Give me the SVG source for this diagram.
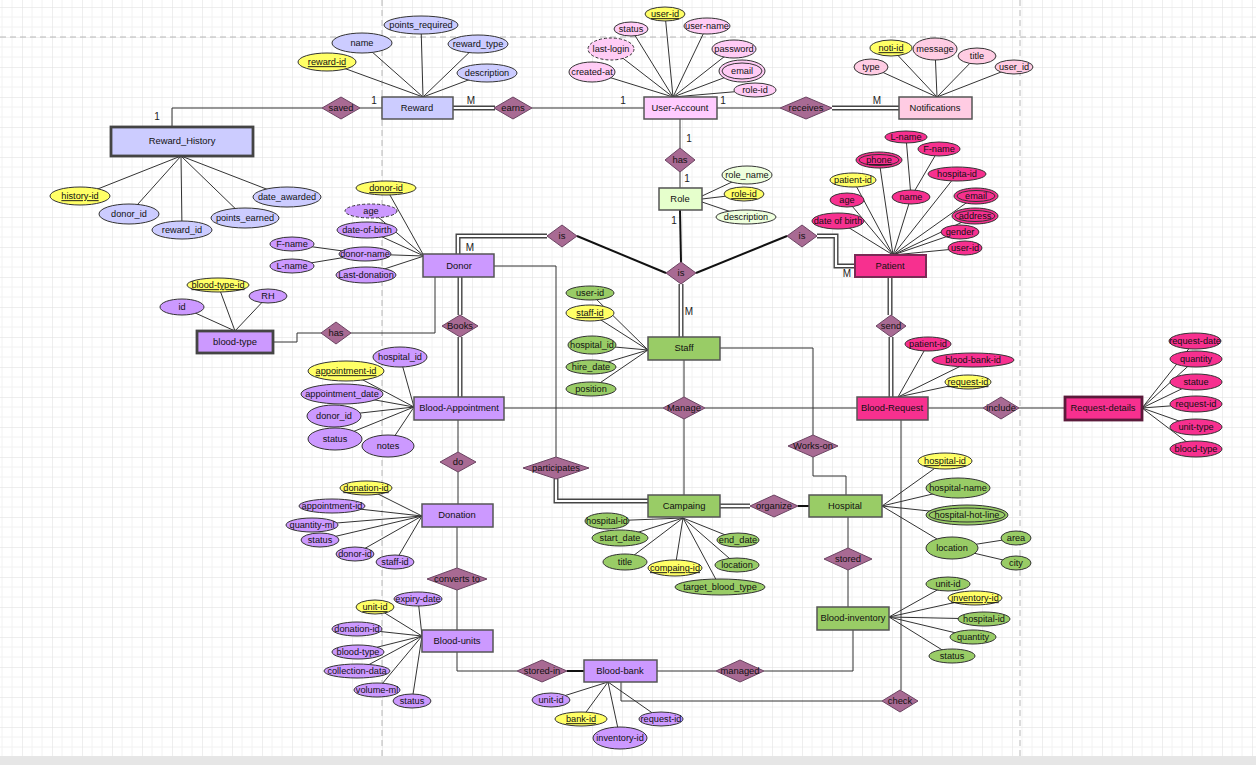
<svg xmlns="http://www.w3.org/2000/svg" width="1256" height="765" viewBox="0 0 1256 765">
<style>
.t{font-family:"Liberation Sans",Arial,sans-serif;font-size:9.2px;text-anchor:middle;fill:#111}
.te{font-size:9.4px}
.k{text-decoration:underline}
.e{stroke:#555;stroke-width:1.5}
.ew{stroke:#444;stroke-width:2.8}
.a{stroke:#333;stroke-width:1}
.dsh{stroke-dasharray:3 2}
.in{fill:none;stroke:#333;stroke-width:1}
.r{fill:#a86a93;stroke:#6b4462;stroke-width:1}
.ln{stroke:#333;stroke-width:1;fill:none}
.th{stroke:#111;stroke-width:2;fill:none}
.dbo{stroke:#444;stroke-width:5;fill:none}
.dbi{stroke:#fff;stroke-width:2.2;fill:none}
.lbl{font-family:"Liberation Sans",Arial,sans-serif;font-size:10px;text-anchor:middle;fill:#222}
.pv{fill:#ccccff}.y{fill:#ffff66}.pk{fill:#ffccf5}.nf{fill:#ffcce3}.lg{fill:#e6ffcc}.lg2{fill:#eeffdd}
.hp{fill:#f7308f}.pu{fill:#cc99ff}.gr{fill:#99cc66}
</style>
<defs>
<pattern id="grid" x="22" y="7" width="30" height="30" patternUnits="userSpaceOnUse">
<path d="M10 0V30M20 0V30M0 10H30M0 20H30" stroke="#f2f2f2" stroke-width="1" fill="none"/>
<path d="M0 0V30M0 0H30" stroke="#dedede" stroke-width="1" fill="none"/>
</pattern>
</defs>
<rect width="1256" height="765" fill="#fff"/>
<rect width="1256" height="757" fill="url(#grid)"/>
<g id="guides" stroke="#b8b8b8" stroke-width="1" stroke-dasharray="6 4" fill="none">
<path d="M0 37H1256"/>
<path d="M382 0V757"/>
<path d="M1020 0V757"/>
</g>
<rect x="0" y="756" width="1256" height="9" fill="#e6e6e6"/>

<g id="connectors">
<path class="ln" d="M181 156L80 196M181 156L129 214M181 156L182 230M181 156L245 218M181 156L287 197"/>
<path class="ln" d="M423 97L327 62M423 97L362 43M423 97L421 25M423 97L478 44M423 97L487 73"/>
<path class="ln" d="M673 97L665 14M673 97L631 29M673 97L707 26M673 97L734 49M673 97L742 71M673 97L755 90M673 97L611 49M673 97L592 72"/>
<path class="ln" d="M937 97L891 48M937 97L935 49M937 97L977 56M937 97L1014 67M937 97L871 67"/>
<path class="ln" d="M702 196L747 175M702 199L744 194M702 202L746 217"/>
<path class="ln" d="M893 255L879 160M893 255L957 174M893 255L911 197M893 255L853 180M893 255L847 200M893 255L838 221M893 255L976 196M893 255L975 216M893 255L960 232M893 255L965 248M911 197L906 137M911 197L939 149"/>
<path class="ln" d="M898 397L928 344M898 397L973 360M898 397L968 382"/>
<path class="ln" d="M1142 408L1195 341M1142 408L1196 359M1142 408L1196 382M1142 408L1196 404M1142 408L1196 427M1142 408L1196 449"/>
<path class="ln" d="M424 256L386 188M424 256L371 211M424 256L367 230M424 256L365 254M424 256L366 275M365 254L292 244M365 254L292 266"/>
<path class="ln" d="M235 331L218 285M235 331L268 296M235 331L182 307"/>
<path class="ln" d="M414 407L400 357M414 407L346 371M414 407L342 394M414 407L334 416M414 407L335 439M414 407L388 446"/>
<path class="ln" d="M422 516L366 488M422 516L332 506M422 516L312 525M422 516L320 540M422 516L355 554M422 516L395 562"/>
<path class="ln" d="M422 636L418 599M422 636L375 607M422 636L357 629M422 636L358 652M422 636L357 671M422 636L377 690M422 636L412 701"/>
<path class="ln" d="M608 682L551 700M608 682L581 719M608 682L620 738M608 682L661 719"/>
<path class="ln" d="M648 350L590 293M648 350L590 313M648 350L592 345M648 350L591 367M648 350L591 389"/>
<path class="ln" d="M683 518L607 521M683 518L620 538M683 518L625 562M683 518L675 568M683 518L720 587M683 518L737 565M683 518L738 540"/>
<path class="ln" d="M882 506L945 461M882 506L958 488M882 506L967 515M882 506L952 548M952 548L1016 538M952 548L1016 563"/>
<path class="ln" d="M889 617L948 584M889 617L975 598M889 617L984 619M889 617L973 637M889 617L952 656"/>
<path class="ln" d="M172 127V108H322"/>
<path class="ln" d="M360 108H382"/>
<path class="dbo" d="M453 108H495"/><path class="dbi" d="M453 108H495"/>
<path class="ln" d="M532 108H644"/>
<path class="ln" d="M717 108H780"/>
<path class="dbo" d="M832 108H899"/><path class="dbi" d="M832 108H899"/>
<path class="ln" d="M680 119V148M680 172V188"/>
<path class="th" d="M680 210L681 262"/>
<path class="th" d="M577 236L666 273"/>
<path class="th" d="M787 236L696 273"/>
<path class="dbo" d="M458 254V236H547"/><path class="dbi" d="M458 254V236H547"/>
<path class="dbo" d="M817 236H836V266H855"/><path class="dbi" d="M817 236H836V266H855"/>
<path class="dbo" d="M890 277V315"/><path class="dbi" d="M890 277V315"/>
<path class="dbo" d="M891 337V397"/><path class="dbi" d="M891 337V397"/>
<path class="ln" d="M928 408H983M1019 408H1065"/>
<path class="ln" d="M435 277V333H351"/>
<path class="ln" d="M321 333H297V342H273"/>
<path class="dbo" d="M460 277V315M460 337V397"/><path class="dbi" d="M460 277V315M460 337V397"/>
<path class="ln" d="M494 266H556V457"/>
<path class="dbo" d="M556 479V501H648"/><path class="dbi" d="M556 479V501H648"/>
<path class="ln" d="M504 408H663M705 408H857"/>
<path class="ln" d="M684 360V397M684 419V495"/>
<path class="dbo" d="M681 284V337"/><path class="dbi" d="M681 284V337"/>
<path class="ln" d="M720 348H813V435"/>
<path class="ln" d="M813 457V476H846V495"/>
<path class="dbo" d="M720 506H750"/><path class="dbi" d="M720 506H750"/>
<path class="th" d="M798 506H809"/>
<path class="ln" d="M848 517V548M848 570V607"/>
<path class="ln" d="M458 420V452M458 472V504"/>
<path class="ln" d="M457 527V568M457 590V630"/>
<path class="ln" d="M457 652V671H517"/>
<path class="th" d="M567 671H584"/>
<path class="ln" d="M657 671H716"/>
<path class="ln" d="M764 671H853V630"/>
<path class="ln" d="M621 682V701H882"/>
<path class="ln" d="M901 690V420"/>
</g>

<g id="cardinalities">
<text class="lbl" x="157" y="120">1</text>
<text class="lbl" x="374" y="104">1</text>
<text class="lbl" x="471" y="104">M</text>
<text class="lbl" x="623" y="104">1</text>
<text class="lbl" x="723" y="104">1</text>
<text class="lbl" x="877" y="104">M</text>
<text class="lbl" x="689" y="142">1</text>
<text class="lbl" x="687" y="182">1</text>
<text class="lbl" x="674" y="224">1</text>
<text class="lbl" x="470" y="251">M</text>
<text class="lbl" x="847" y="277">M</text>
<text class="lbl" x="689" y="315">M</text>
</g>

<g id="Reward_History"><rect class="ew pv" x="111" y="127" width="142" height="29"/><text class="t te" x="182" y="141" dy=".35em">Reward_History</text></g>
<g id="Reward"><rect class="e pv" x="382" y="97" width="71" height="22"/><text class="t te" x="417" y="108" dy=".35em">Reward</text></g>
<g id="User-Account"><rect class="e" fill="#ffccff" x="644" y="97" width="73" height="22"/><text class="t te" x="680" y="108" dy=".35em">User-Account</text></g>
<g id="Notifications"><rect class="e nf" x="899" y="97" width="73" height="22"/><text class="t te" x="935" y="108" dy=".35em">Notifications</text></g>
<g id="Role"><rect class="e lg" x="659" y="188" width="43" height="22"/><text class="t te" x="680" y="199" dy=".35em">Role</text></g>
<g id="Patient"><rect class="hp" stroke="#7a2a55" stroke-width="2" x="855" y="255" width="71" height="22"/><text class="t te" x="890" y="266" dy=".35em">Patient</text></g>
<g id="Donor"><rect class="e pu" x="423" y="254" width="71" height="23"/><text class="t te" x="459" y="266" dy=".35em">Donor</text></g>
<g id="blood-type"><rect class="ew pu" x="197" y="331" width="76" height="22"/><text class="t te" x="235" y="342" dy=".35em">blood-type</text></g>
<g id="Blood-Appointment"><rect class="e pu" x="414" y="397" width="90" height="23"/><text class="t te" x="459" y="408" dy=".35em">Blood-Appointment</text></g>
<g id="Staff"><rect class="e gr" x="648" y="337" width="72" height="23"/><text class="t te" x="684" y="348" dy=".35em">Staff</text></g>
<g id="Blood-Request"><rect class="e hp" x="857" y="397" width="71" height="23"/><text class="t te" x="892" y="408" dy=".35em">Blood-Request</text></g>
<g id="Request-details"><rect class="hp" stroke="#5a1a3a" stroke-width="2.8" x="1065" y="397" width="77" height="23"/><text class="t te" x="1103" y="408" dy=".35em">Request-details</text></g>
<g id="Donation"><rect class="e pu" x="422" y="504" width="71" height="23"/><text class="t te" x="457" y="515" dy=".35em">Donation</text></g>
<g id="Campaing"><rect class="e gr" x="648" y="495" width="72" height="22"/><text class="t te" x="684" y="506" dy=".35em">Campaing</text></g>
<g id="Hospital"><rect class="e gr" x="809" y="495" width="73" height="22"/><text class="t te" x="845" y="506" dy=".35em">Hospital</text></g>
<g id="Blood-inventory"><rect class="e gr" x="817" y="607" width="72" height="23"/><text class="t te" x="853" y="618" dy=".35em">Blood-inventory</text></g>
<g id="Blood-units"><rect class="e pu" x="422" y="630" width="71" height="22"/><text class="t te" x="457" y="641" dy=".35em">Blood-units</text></g>
<g id="Blood-bank"><rect class="e pu" x="584" y="660" width="73" height="22"/><text class="t te" x="620" y="671" dy=".35em">Blood-bank</text></g>

<g id="rel-saved"><path class="r" d="M322 108L341 97L360 108L341 119Z"/><text class="t te" x="341" y="108" dy=".35em">saved</text></g>
<g id="rel-earns"><path class="r" d="M494 108L513 97L532 108L513 119Z"/><text class="t te" x="513" y="108" dy=".35em">earns</text></g>
<g id="rel-receives"><path class="r" d="M780 108L806 97L832 108L806 119Z"/><text class="t te" x="806" y="108" dy=".35em">receives</text></g>
<g id="rel-has-role"><path class="r" d="M665 160L680 148L695 160L680 172Z"/><text class="t te" x="680" y="160" dy=".35em">has</text></g>
<g id="rel-is-donor"><path class="r" d="M547 236L562 225L577 236L562 247Z"/><text class="t te" x="562" y="236" dy=".35em">is</text></g>
<g id="rel-is-center"><path class="r" d="M666 273L681 262L696 273L681 284Z"/><text class="t te" x="681" y="273" dy=".35em">is</text></g>
<g id="rel-is-patient"><path class="r" d="M787 236L802 225L817 236L802 247Z"/><text class="t te" x="802" y="236" dy=".35em">is</text></g>
<g id="rel-send"><path class="r" d="M876 326L891 315L906 326L891 337Z"/><text class="t te" x="891" y="326" dy=".35em">send</text></g>
<g id="rel-include"><path class="r" d="M983 408L1001 397L1019 408L1001 419Z"/><text class="t te" x="1001" y="408" dy=".35em">include</text></g>
<g id="rel-has-bloodtype"><path class="r" d="M321 333L336 322L351 333L336 344Z"/><text class="t te" x="336" y="333" dy=".35em">has</text></g>
<g id="rel-Books"><path class="r" d="M442 326L460 315L478 326L460 337Z"/><text class="t te" x="460" y="326" dy=".35em">Books</text></g>
<g id="rel-participates"><path class="r" d="M523 468L556 457L589 468L556 479Z"/><text class="t te" x="556" y="468" dy=".35em">participates</text></g>
<g id="rel-Manage"><path class="r" d="M663 408L684 397L705 408L684 419Z"/><text class="t te" x="684" y="408" dy=".35em">Manage</text></g>
<g id="rel-Works-on"><path class="r" d="M788 446L813 435L838 446L813 457Z"/><text class="t te" x="813" y="446" dy=".35em">Works-on</text></g>
<g id="rel-do"><path class="r" d="M440 462L458 452L476 462L458 472Z"/><text class="t te" x="458" y="462" dy=".35em">do</text></g>
<g id="rel-converts-to"><path class="r" d="M427 579L457 568L487 579L457 590Z"/><text class="t te" x="457" y="579" dy=".35em">converts to</text></g>
<g id="rel-organize"><path class="r" d="M750 506L774 495L798 506L774 517Z"/><text class="t te" x="774" y="506" dy=".35em">organize</text></g>
<g id="rel-stored"><path class="r" d="M824 559L848 548L872 559L848 570Z"/><text class="t te" x="848" y="559" dy=".35em">stored</text></g>
<g id="rel-stored-in"><path class="r" d="M517 671L542 660L567 671L542 682Z"/><text class="t te" x="542" y="671" dy=".35em">stored-in</text></g>
<g id="rel-managed"><path class="r" d="M716 671L740 660L764 671L740 682Z"/><text class="t te" x="740" y="671" dy=".35em">managed</text></g>
<g id="rel-check"><path class="r" d="M882 701L900 690L918 701L900 712Z"/><text class="t te" x="900" y="701" dy=".35em">check</text></g>

<g id="rh-history-id"><ellipse class="a y" cx="80" cy="196" rx="30" ry="9"/><text class="t k" x="80" y="196" dy=".35em">history-id</text></g>
<g id="rh-donor_id"><ellipse class="a pv" cx="129" cy="214" rx="30" ry="10"/><text class="t" x="129" y="214" dy=".35em">donor_id</text></g>
<g id="rh-reward_id"><ellipse class="a pv" cx="182" cy="230" rx="30" ry="9"/><text class="t" x="182" y="230" dy=".35em">reward_id</text></g>
<g id="rh-points_earned"><ellipse class="a pv" cx="245" cy="218" rx="34" ry="10"/><text class="t" x="245" y="218" dy=".35em">points_earned</text></g>
<g id="rh-date_awarded"><ellipse class="a pv" cx="287" cy="197" rx="34" ry="10"/><text class="t" x="287" y="197" dy=".35em">date_awarded</text></g>
<g id="rw-reward-id"><ellipse class="a y" cx="327" cy="62" rx="29" ry="9"/><text class="t k" x="327" y="62" dy=".35em">reward-id</text></g>
<g id="rw-name"><ellipse class="a pv" cx="362" cy="43" rx="30" ry="10"/><text class="t" x="362" y="43" dy=".35em">name</text></g>
<g id="rw-points_required"><ellipse class="a pv" cx="421" cy="25" rx="37" ry="9"/><text class="t" x="421" y="25" dy=".35em">points_required</text></g>
<g id="rw-reward_type"><ellipse class="a pv" cx="478" cy="44" rx="30" ry="9"/><text class="t" x="478" y="44" dy=".35em">reward_type</text></g>
<g id="rw-description"><ellipse class="a pv" cx="487" cy="73" rx="30" ry="9"/><text class="t" x="487" y="73" dy=".35em">description</text></g>
<g id="ua-user-id"><ellipse class="a y" cx="665" cy="14" rx="20" ry="7"/><text class="t k" x="665" y="14" dy=".35em">user-id</text></g>
<g id="ua-status"><ellipse class="a pk" cx="631" cy="29" rx="17" ry="7"/><text class="t" x="631" y="29" dy=".35em">status</text></g>
<g id="ua-user-name"><ellipse class="a pk" cx="707" cy="26" rx="23" ry="8"/><text class="t" x="707" y="26" dy=".35em">user-name</text></g>
<g id="ua-password"><ellipse class="a pk" cx="734" cy="49" rx="22" ry="9"/><text class="t" x="734" y="49" dy=".35em">password</text></g>
<g id="ua-email"><ellipse class="a pk" cx="742" cy="71" rx="23" ry="11"/><ellipse class="in" cx="742" cy="71" rx="20" ry="8"/><text class="t" x="742" y="71" dy=".35em">email</text></g>
<g id="ua-role-id"><ellipse class="a pk" cx="755" cy="90" rx="21" ry="7"/><text class="t" x="755" y="90" dy=".35em">role-id</text></g>
<g id="ua-last-login"><ellipse class="a pk dsh" cx="611" cy="49" rx="23" ry="11"/><text class="t" x="611" y="49" dy=".35em">last-login</text></g>
<g id="ua-created-at"><ellipse class="a pk" cx="592" cy="72" rx="23" ry="10"/><text class="t" x="592" y="72" dy=".35em">created-at</text></g>
<g id="nt-noti-id"><ellipse class="a y" cx="891" cy="48" rx="21" ry="8"/><text class="t k" x="891" y="48" dy=".35em">noti-id</text></g>
<g id="nt-message"><ellipse class="a nf" cx="935" cy="49" rx="22" ry="11"/><text class="t" x="935" y="49" dy=".35em">message</text></g>
<g id="nt-title"><ellipse class="a nf" cx="977" cy="56" rx="19" ry="8"/><text class="t" x="977" y="56" dy=".35em">title</text></g>
<g id="nt-user_id"><ellipse class="a nf" cx="1014" cy="67" rx="19" ry="7"/><text class="t" x="1014" y="67" dy=".35em">user_id</text></g>
<g id="nt-type"><ellipse class="a nf" cx="871" cy="67" rx="17" ry="8"/><text class="t" x="871" y="67" dy=".35em">type</text></g>
<g id="ro-role_name"><ellipse class="a lg2" cx="747" cy="175" rx="25" ry="9"/><text class="t" x="747" y="175" dy=".35em">role_name</text></g>
<g id="ro-role-id"><ellipse class="a y" cx="744" cy="194" rx="20" ry="7"/><text class="t k" x="744" y="194" dy=".35em">role-id</text></g>
<g id="ro-description"><ellipse class="a lg2" cx="746" cy="217" rx="30" ry="7"/><text class="t" x="746" y="217" dy=".35em">description</text></g>
<g id="pa-L-name"><ellipse class="a hp" cx="906" cy="137" rx="21" ry="6"/><text class="t" x="906" y="137" dy=".35em">L-name</text></g>
<g id="pa-F-name"><ellipse class="a hp" cx="939" cy="149" rx="21" ry="7"/><text class="t" x="939" y="149" dy=".35em">F-name</text></g>
<g id="pa-phone"><ellipse class="a hp" cx="879" cy="160" rx="23" ry="8"/><ellipse class="in" cx="879" cy="160" rx="20" ry="5.5"/><text class="t k" x="879" y="160" dy=".35em">phone</text></g>
<g id="pa-hospita-id"><ellipse class="a hp" cx="957" cy="174" rx="29" ry="7"/><text class="t" x="957" y="174" dy=".35em">hospita-id</text></g>
<g id="pa-name"><ellipse class="a hp" cx="911" cy="197" rx="19" ry="7"/><text class="t" x="911" y="197" dy=".35em">name</text></g>
<g id="pa-patient-id"><ellipse class="a y" cx="853" cy="180" rx="23" ry="7"/><text class="t" x="853" y="180" dy=".35em">patient-id</text></g>
<g id="pa-age"><ellipse class="a hp" cx="847" cy="200" rx="17" ry="7"/><text class="t" x="847" y="200" dy=".35em">age</text></g>
<g id="pa-date-of-birth"><ellipse class="a hp" cx="838" cy="221" rx="26" ry="8"/><text class="t" x="838" y="221" dy=".35em">date of birth</text></g>
<g id="pa-email"><ellipse class="a hp" cx="976" cy="196" rx="22" ry="8"/><ellipse class="in" cx="976" cy="196" rx="19" ry="5.5"/><text class="t" x="976" y="196" dy=".35em">email</text></g>
<g id="pa-address"><ellipse class="a hp" cx="975" cy="216" rx="23" ry="8"/><ellipse class="in" cx="975" cy="216" rx="20" ry="5.5"/><text class="t" x="975" y="216" dy=".35em">address</text></g>
<g id="pa-gender"><ellipse class="a hp" cx="960" cy="232" rx="19" ry="7"/><text class="t" x="960" y="232" dy=".35em">gender</text></g>
<g id="pa-user-id"><ellipse class="a hp" cx="965" cy="248" rx="17" ry="7"/><text class="t" x="965" y="248" dy=".35em">user-id</text></g>
<g id="br-patient-id"><ellipse class="a hp" cx="928" cy="344" rx="23" ry="7"/><text class="t" x="928" y="344" dy=".35em">patient-id</text></g>
<g id="br-blood-bank-id"><ellipse class="a hp" cx="973" cy="360" rx="41" ry="7"/><text class="t" x="973" y="360" dy=".35em">blood-bank-id</text></g>
<g id="br-request-id"><ellipse class="a y" cx="968" cy="382" rx="23" ry="7"/><text class="t k" x="968" y="382" dy=".35em">request-id</text></g>
<g id="rd-request-date"><ellipse class="a hp" cx="1195" cy="341" rx="26" ry="8"/><text class="t" x="1195" y="341" dy=".35em">request-date</text></g>
<g id="rd-quantity"><ellipse class="a hp" cx="1196" cy="359" rx="26" ry="8"/><text class="t" x="1196" y="359" dy=".35em">quantity</text></g>
<g id="rd-statue"><ellipse class="a hp" cx="1196" cy="382" rx="26" ry="8"/><text class="t" x="1196" y="382" dy=".35em">statue</text></g>
<g id="rd-request-id"><ellipse class="a hp" cx="1196" cy="404" rx="26" ry="8"/><text class="t" x="1196" y="404" dy=".35em">request-id</text></g>
<g id="rd-unit-type"><ellipse class="a hp" cx="1196" cy="427" rx="26" ry="8"/><text class="t" x="1196" y="427" dy=".35em">unit-type</text></g>
<g id="rd-blood-type"><ellipse class="a hp" cx="1196" cy="449" rx="26" ry="8"/><text class="t" x="1196" y="449" dy=".35em">blood-type</text></g>
<g id="do-donor-id"><ellipse class="a y" cx="386" cy="188" rx="30" ry="7"/><text class="t k" x="386" y="188" dy=".35em">donor-id</text></g>
<g id="do-age"><ellipse class="a pu dsh" cx="371" cy="211" rx="26" ry="7"/><text class="t" x="371" y="211" dy=".35em">age</text></g>
<g id="do-date-of-birth"><ellipse class="a pu" cx="367" cy="230" rx="30" ry="8"/><text class="t" x="367" y="230" dy=".35em">date-of-birth</text></g>
<g id="do-donor-name"><ellipse class="a pu" cx="365" cy="254" rx="26" ry="7"/><text class="t" x="365" y="254" dy=".35em">donor-name</text></g>
<g id="do-F-name"><ellipse class="a pu" cx="292" cy="244" rx="22" ry="7"/><text class="t" x="292" y="244" dy=".35em">F-name</text></g>
<g id="do-L-name"><ellipse class="a pu" cx="292" cy="266" rx="22" ry="7"/><text class="t" x="292" y="266" dy=".35em">L-name</text></g>
<g id="do-Last-donation"><ellipse class="a pu" cx="366" cy="275" rx="30" ry="8"/><text class="t" x="366" y="275" dy=".35em">Last-donation</text></g>
<g id="bt-blood-type-id"><ellipse class="a y" cx="218" cy="285" rx="31" ry="7"/><text class="t k" x="218" y="285" dy=".35em">blood-type-id</text></g>
<g id="bt-RH"><ellipse class="a pu" cx="268" cy="296" rx="19" ry="7"/><text class="t" x="268" y="296" dy=".35em">RH</text></g>
<g id="bt-id"><ellipse class="a pu" cx="182" cy="307" rx="22" ry="8"/><text class="t" x="182" y="307" dy=".35em">id</text></g>
<g id="ba-hospital_id"><ellipse class="a pu" cx="400" cy="357" rx="27" ry="10"/><text class="t" x="400" y="357" dy=".35em">hospital_id</text></g>
<g id="ba-appointment-id"><ellipse class="a y" cx="346" cy="371" rx="38" ry="10"/><text class="t k" x="346" y="371" dy=".35em">appointment-id</text></g>
<g id="ba-appointment_date"><ellipse class="a pu" cx="342" cy="394" rx="41" ry="10"/><text class="t" x="342" y="394" dy=".35em">appointment_date</text></g>
<g id="ba-donor_id"><ellipse class="a pu" cx="334" cy="416" rx="27" ry="11"/><text class="t" x="334" y="416" dy=".35em">donor_id</text></g>
<g id="ba-status"><ellipse class="a pu" cx="335" cy="439" rx="27" ry="11"/><text class="t" x="335" y="439" dy=".35em">status</text></g>
<g id="ba-notes"><ellipse class="a pu" cx="388" cy="446" rx="26" ry="11"/><text class="t" x="388" y="446" dy=".35em">notes</text></g>
<g id="dn-donation-id"><ellipse class="a y" cx="366" cy="488" rx="26" ry="7"/><text class="t k" x="366" y="488" dy=".35em">donation-id</text></g>
<g id="dn-appointment-id"><ellipse class="a pu" cx="332" cy="506" rx="33" ry="7"/><text class="t" x="332" y="506" dy=".35em">appointment-id</text></g>
<g id="dn-quantity-ml"><ellipse class="a pu" cx="312" cy="525" rx="26" ry="7"/><text class="t" x="312" y="525" dy=".35em">quantity-ml</text></g>
<g id="dn-status"><ellipse class="a pu" cx="320" cy="540" rx="19" ry="7"/><text class="t" x="320" y="540" dy=".35em">status</text></g>
<g id="dn-donor-id"><ellipse class="a pu" cx="355" cy="554" rx="19" ry="7"/><text class="t" x="355" y="554" dy=".35em">donor-id</text></g>
<g id="dn-staff-id"><ellipse class="a pu" cx="395" cy="562" rx="19" ry="7"/><text class="t" x="395" y="562" dy=".35em">staff-id</text></g>
<g id="bu-expiry-date"><ellipse class="a pu" cx="418" cy="599" rx="24" ry="7"/><text class="t" x="418" y="599" dy=".35em">expiry-date</text></g>
<g id="bu-unit-id"><ellipse class="a y" cx="375" cy="607" rx="19" ry="7"/><text class="t k" x="375" y="607" dy=".35em">unit-id</text></g>
<g id="bu-donation-id"><ellipse class="a pu" cx="357" cy="629" rx="25" ry="7"/><text class="t" x="357" y="629" dy=".35em">donation-id</text></g>
<g id="bu-blood-type"><ellipse class="a pu" cx="358" cy="652" rx="26" ry="7"/><text class="t" x="358" y="652" dy=".35em">blood-type</text></g>
<g id="bu-collection-data"><ellipse class="a pu" cx="357" cy="671" rx="33" ry="7"/><text class="t" x="357" y="671" dy=".35em">collection-data</text></g>
<g id="bu-volume-ml"><ellipse class="a pu" cx="377" cy="690" rx="23" ry="7"/><text class="t" x="377" y="690" dy=".35em">volume-ml</text></g>
<g id="bu-status"><ellipse class="a pu" cx="412" cy="701" rx="19" ry="7"/><text class="t" x="412" y="701" dy=".35em">status</text></g>
<g id="bb-unit-id"><ellipse class="a pu" cx="551" cy="700" rx="19" ry="7"/><text class="t" x="551" y="700" dy=".35em">unit-id</text></g>
<g id="bb-bank-id"><ellipse class="a y" cx="581" cy="719" rx="26" ry="7"/><text class="t k" x="581" y="719" dy=".35em">bank-id</text></g>
<g id="bb-inventory-id"><ellipse class="a pu" cx="620" cy="738" rx="27" ry="11"/><text class="t" x="620" y="738" dy=".35em">inventory-id</text></g>
<g id="bb-request-id"><ellipse class="a pu" cx="661" cy="719" rx="22" ry="7"/><text class="t" x="661" y="719" dy=".35em">request-id</text></g>
<g id="st-user-id"><ellipse class="a gr" cx="590" cy="293" rx="24" ry="7"/><text class="t" x="590" y="293" dy=".35em">user-id</text></g>
<g id="st-staff-id"><ellipse class="a y" cx="590" cy="313" rx="24" ry="8"/><text class="t k" x="590" y="313" dy=".35em">staff-id</text></g>
<g id="st-hospital_id"><ellipse class="a gr" cx="592" cy="345" rx="24" ry="9"/><text class="t" x="592" y="345" dy=".35em">hospital_id</text></g>
<g id="st-hire_date"><ellipse class="a gr" cx="591" cy="367" rx="25" ry="7"/><text class="t" x="591" y="367" dy=".35em">hire_date</text></g>
<g id="st-position"><ellipse class="a gr" cx="591" cy="389" rx="25" ry="7"/><text class="t" x="591" y="389" dy=".35em">position</text></g>
<g id="cp-hospital-id"><ellipse class="a gr" cx="607" cy="521" rx="22" ry="8"/><text class="t" x="607" y="521" dy=".35em">hospital-id</text></g>
<g id="cp-start_date"><ellipse class="a gr" cx="620" cy="538" rx="28" ry="8"/><text class="t" x="620" y="538" dy=".35em">start_date</text></g>
<g id="cp-title"><ellipse class="a gr" cx="625" cy="562" rx="22" ry="8"/><text class="t" x="625" y="562" dy=".35em">title</text></g>
<g id="cp-compaing-id"><ellipse class="a y" cx="675" cy="568" rx="27" ry="8"/><text class="t k" x="675" y="568" dy=".35em">compaing-id</text></g>
<g id="cp-target_blood_type"><ellipse class="a gr" cx="720" cy="587" rx="45" ry="8"/><text class="t" x="720" y="587" dy=".35em">target_blood_type</text></g>
<g id="cp-location"><ellipse class="a gr" cx="737" cy="565" rx="22" ry="7"/><text class="t" x="737" y="565" dy=".35em">location</text></g>
<g id="cp-end_date"><ellipse class="a gr" cx="738" cy="540" rx="21" ry="7"/><text class="t" x="738" y="540" dy=".35em">end_date</text></g>
<g id="hs-hospital-id"><ellipse class="a y" cx="945" cy="461" rx="27" ry="8"/><text class="t k" x="945" y="461" dy=".35em">hospital-id</text></g>
<g id="hs-hospital-name"><ellipse class="a gr" cx="958" cy="488" rx="32" ry="10"/><text class="t" x="958" y="488" dy=".35em">hospital-name</text></g>
<g id="hs-hospital-hot-line"><ellipse class="a gr" cx="967" cy="515" rx="41" ry="10"/><ellipse class="in" cx="967" cy="515" rx="38" ry="7"/><text class="t" x="967" y="515" dy=".35em">hospital-hot-line</text></g>
<g id="hs-location"><ellipse class="a gr" cx="952" cy="548" rx="26" ry="11"/><text class="t" x="952" y="548" dy=".35em">location</text></g>
<g id="hs-area"><ellipse class="a gr" cx="1016" cy="538" rx="15" ry="7"/><text class="t" x="1016" y="538" dy=".35em">area</text></g>
<g id="hs-city"><ellipse class="a gr" cx="1016" cy="563" rx="15" ry="7"/><text class="t" x="1016" y="563" dy=".35em">city</text></g>
<g id="bi-unit-id"><ellipse class="a gr" cx="948" cy="584" rx="22" ry="7"/><text class="t" x="948" y="584" dy=".35em">unit-id</text></g>
<g id="bi-inventory-id"><ellipse class="a y" cx="975" cy="598" rx="27" ry="7"/><text class="t k" x="975" y="598" dy=".35em">inventory-id</text></g>
<g id="bi-hospital-id"><ellipse class="a gr" cx="984" cy="619" rx="26" ry="7"/><text class="t" x="984" y="619" dy=".35em">hospital-id</text></g>
<g id="bi-quantity"><ellipse class="a gr" cx="973" cy="637" rx="23" ry="7"/><text class="t" x="973" y="637" dy=".35em">quantity</text></g>
<g id="bi-status"><ellipse class="a gr" cx="952" cy="656" rx="23" ry="7"/><text class="t" x="952" y="656" dy=".35em">status</text></g>
</svg>
